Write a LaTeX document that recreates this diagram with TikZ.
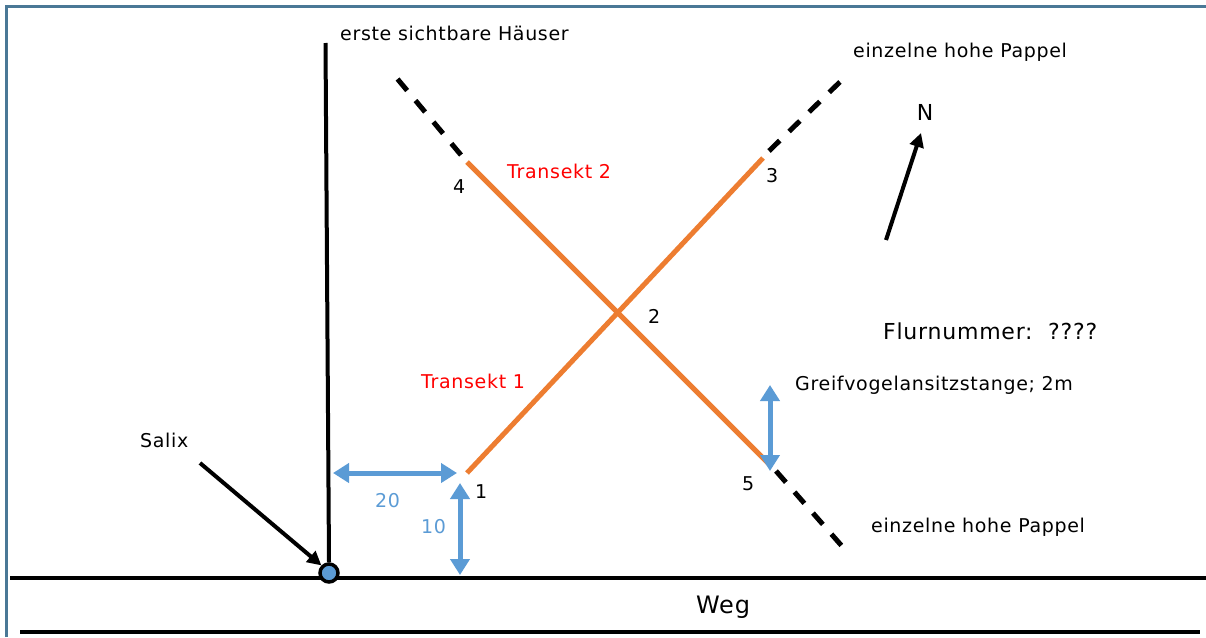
\documentclass[tikz,border=0pt]{standalone}
\usepackage{fontspec}
\setmainfont{DejaVu Sans}[LetterSpace=3.5]
\usetikzlibrary{arrows.meta}
\definecolor{frameblue}{HTML}{4A7896}
\definecolor{trorange}{HTML}{ED7D31}
\definecolor{dimblue}{HTML}{5B9BD5}
\tikzset{
  lbl/.style={font=\fontsize{19}{21}\selectfont, inner sep=0pt, anchor=west},
  biglbl/.style={font=\fontsize{22}{24}\selectfont, inner sep=0pt},
  transekt/.style={draw=trorange, line width=5pt},
  ext/.style={draw=black, line width=5pt, dash pattern=on 15pt off 13pt},
  dim/.style={draw=dimblue, line width=5pt, {Triangle[length=16pt,width=19pt]}-{Triangle[length=16pt,width=19pt]}},
  blk/.style={draw=black, line width=4pt},
}
\begin{document}
\begin{tikzpicture}[x=1pt,y=-1pt]
\useasboundingbox (0,0) rectangle (1206,637);
% frame
\draw[frameblue, line width=2.5pt] (6.5,637) -- (6.5,6.5) -- (1206,6.5);
% road
\draw[blk] (10,578) -- (1206,578);
\draw[blk] (20,632) -- (1200,632);
\node[biglbl, font=\fontsize{24}{26}\selectfont] (weg) at (723,607) {Weg};
% vertical line and Salix
\coordinate (vtop) at (325.5,43);
\node[circle, draw=black, fill=dimblue, line width=3.5pt, minimum size=18pt, inner sep=0pt] (salixpt) at (329,573) {};
\draw[blk] (vtop) -- (salixpt.north);
\node[lbl] (salix) at (140,440) {Salix};
\coordinate (salixstart) at (200,463);
\draw[blk, -{Triangle[length=14pt,width=14pt]}] (salixstart) -- (salixpt.north west);
\node[lbl] (haeuser) at (340,33) {erste sichtbare Häuser};
% transect points
\coordinate (p1) at (467,473);
\coordinate (p3) at (763,158);
\coordinate (p4) at (467,162);
\coordinate (p5) at (770,465);
\coordinate (e4) at (390,70);
\coordinate (e3) at (845,77);
\coordinate (e5) at (848,553);
\coordinate (d4) at (461,155);
\coordinate (d3) at (769,151);
\coordinate (d5) at (776,471);
\draw[transekt] (p1) -- (p3);
\draw[transekt] (p4) -- (p5);
\draw[ext] (d4) -- (e4);
\draw[ext] (d3) -- (e3);
\draw[ext] (d5) -- (e5);
\node[lbl] (n1) at (475,492) {1};
\node[lbl] (n2) at (648,316) {2};
\node[lbl] (n3) at (766,176) {3};
\node[lbl] (n4) at (453,187) {4};
\node[lbl] (n5) at (742,484) {5};
\node[lbl, text=red] (t2) at (507,171) {Transekt 2};
\node[lbl, text=red] (t1) at (421,381) {Transekt 1};
\node[lbl] (pap1) at (853,52) {einzelne hohe Pappel};
\node[lbl] (pap2) at (871,527) {einzelne hohe Pappel};
% dimensions
\coordinate (h1) at (333,473);
\coordinate (h2) at (457,473);
\draw[dim] (h1) -- (h2);
\node[lbl, text=dimblue] (d20) at (375,501) {20};
\coordinate (v1) at (460,483);
\coordinate (v2) at (460,575);
\draw[dim] (v1) -- (v2);
\node[lbl, text=dimblue] (d10) at (421,527) {10};
\coordinate (g1) at (770,385);
\coordinate (g2) at (770,471);
\draw[dim] (g1) -- (g2);
\node[lbl] (greif) at (795,385) {Greifvogelansitzstange; 2m};
% north
\node[biglbl] (north) at (925,112) {N};
\coordinate (nstart) at (886,240);
\coordinate (nend) at (921,133);
\draw[blk, -{Triangle[length=14pt,width=14pt]}] (nstart) -- (nend);
\node[biglbl, anchor=west] (flur) at (883,331) {Flurnummer:\ \ ????};
\end{tikzpicture}
\end{document}
